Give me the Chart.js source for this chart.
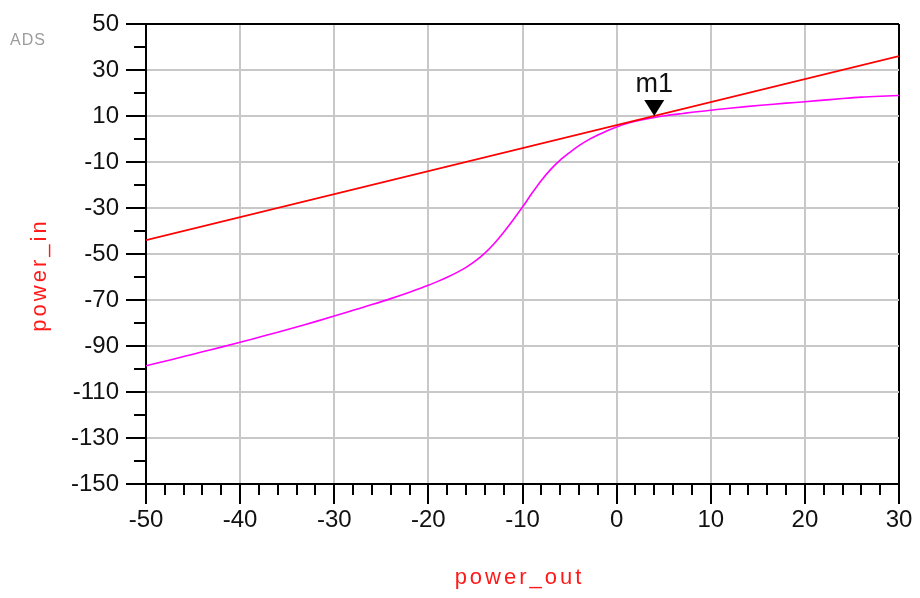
<!DOCTYPE html>
<html>
<head>
<meta charset="utf-8">
<script src="https://cdn.jsdelivr.net/npm/chart.js@4/dist/chart.umd.min.js"></script>
<style>
  html, body { margin: 0; padding: 0; background: #ffffff; }
  #wrap { width: 920px; height: 598px; }
</style>
</head>
<body>
<div id="wrap"><canvas id="c" width="920" height="598"></canvas></div>
<script>
// Swept transfer curve (power_out vs power_in), dB
const powerOut = [-50, -48, -46, -44, -42, -40, -38, -36, -34, -32, -30, -28, -26, -24, -22,
                  -20, -19, -18, -17, -16, -15, -14, -13, -12, -11, -10, -9, -8, -7, -6, -5,
                  -4, -3, -2, -1, 0, 1, 2, 3, 4, 5, 6, 7, 8, 10, 12, 14, 16, 18, 20, 22, 24,
                  26, 28, 30];
const powerIn = [-98.6, -96.6, -94.6, -92.5, -90.5, -88.4, -86.2, -84.0, -81.7, -79.4, -77.0,
                 -74.5, -72.0, -69.4, -66.6, -63.6, -61.9, -60.1, -58.1, -55.8, -53.0, -49.6,
                 -45.4, -40.5, -35.2, -29.6, -23.6, -18.0, -13.2, -9.2, -5.9, -2.9, -0.4, 1.7,
                 3.6, 5.2, 6.6, 7.7, 8.6, 9.35, 10.0, 10.6, 11.1, 11.6, 12.5, 13.4, 14.2, 14.9,
                 15.6, 16.2, 16.9, 17.6, 18.2, 18.6, 18.9];

// Linear (small-signal) extrapolation line
const linearOut = [-50, 30];
const linearIn = [-44, 36];

// Marker
const markerName = 'm1';
const markerOut = 4;
const markerIn = 10;

// Axis ticks and titles
const xTicks = [-50, -40, -30, -20, -10, 0, 10, 20, 30];
const yTicks = [50, 30, 10, -10, -30, -50, -70, -90, -110, -130, -150];
const xMinorStep = 2;
const yMinorStep = 10;
const xTitle = 'power_out';
const yTitle = 'power_in';
const cornerTag = 'ADS';

const FONT = '"Liberation Sans", Arial, sans-serif';

function toPoints(xs, ys) { return xs.map((v, i) => ({ x: v, y: ys[i] })); }

const decorations = {
  id: 'decorations',
  afterDraw(chart) {
    const ctx = chart.ctx;
    const xs = chart.scales.x, ys = chart.scales.y;
    const area = chart.chartArea;
    ctx.save();
    // minor tick marks
    ctx.strokeStyle = '#000';
    ctx.lineWidth = 2;
    ctx.beginPath();
    for (let v = xs.min; v <= xs.max; v += xMinorStep) {
      if (xTicks.includes(v)) continue;
      const px = Math.round(xs.getPixelForValue(v));
      ctx.moveTo(px, area.bottom);
      ctx.lineTo(px, area.bottom + 11);
    }
    for (let v = ys.min; v <= ys.max; v += yMinorStep) {
      if (yTicks.includes(v)) continue;
      const py = Math.round(ys.getPixelForValue(v));
      ctx.moveTo(area.left, py);
      ctx.lineTo(area.left - 12, py);
    }
    ctx.stroke();

    // marker
    const mx = xs.getPixelForValue(markerOut);
    const my = ys.getPixelForValue(markerIn);
    ctx.fillStyle = '#000';
    ctx.beginPath();
    ctx.moveTo(mx, my);
    ctx.lineTo(mx - 10, my - 16);
    ctx.lineTo(mx + 10, my - 16);
    ctx.closePath();
    ctx.fill();
    ctx.font = '27px ' + FONT;
    ctx.textAlign = 'center';
    ctx.textBaseline = 'alphabetic';
    ctx.fillStyle = '#111';
    ctx.fillText(markerName, mx, my - 24);

    // axis titles
    ctx.fillStyle = '#ff1a1a';
    ctx.font = '22px ' + FONT;
    ctx.letterSpacing = '3px';
    ctx.textAlign = 'center';
    ctx.textBaseline = 'middle';
    ctx.fillText(xTitle, (area.left + area.right) / 2 - 3, area.bottom + 94);
    ctx.save();
    ctx.translate(area.left - 106, (area.top + area.bottom) / 2 + 21);
    ctx.rotate(-Math.PI / 2);
    ctx.fillText(yTitle, 0, 0);
    ctx.restore();

    // corner tag
    ctx.letterSpacing = '1px';
    ctx.fillStyle = '#9c9c9c';
    ctx.font = '16px ' + FONT;
    ctx.filter = 'blur(0.5px)';
    ctx.textAlign = 'left';
    ctx.textBaseline = 'alphabetic';
    ctx.fillText(cornerTag, 10, 45);
    ctx.restore();
  }
};

const gridColor = '#c8c8c8';

new Chart(document.getElementById('c'), {
  type: 'line',
  data: {
    datasets: [
      {
        label: 'linear',
        data: toPoints(linearOut, linearIn),
        borderColor: '#ff0000',
        borderWidth: 1.7,
        pointRadius: 0,
        tension: 0
      },
      {
        label: 'swept',
        data: toPoints(powerOut, powerIn),
        borderColor: '#ff00ff',
        borderWidth: 1.6,
        pointRadius: 0,
        cubicInterpolationMode: 'monotone'
      }
    ]
  },
  options: {
    responsive: false,
    animation: false,
    devicePixelRatio: 1,
    layout: { padding: { top: 24, right: 21, left: 0, bottom: 0 } },
    plugins: { legend: { display: false }, tooltip: { enabled: false }, title: { display: false } },
    scales: {
      x: {
        type: 'linear',
        min: -50,
        max: 30,
        afterBuildTicks: s => { s.ticks = xTicks.map(v => ({ value: v })); },
        afterFit: s => { s.height = 114; },
        grid: {
          color: c => (c.tick && c.tick.value === 30) ? '#000' : gridColor,
          lineWidth: 2,
          tickColor: '#000',
          tickLength: 20,
          tickWidth: 2
        },
        border: { color: '#000', width: 2 },
        ticks: {
          color: '#111',
          font: { family: FONT, size: 24 },
          padding: 2,
          maxRotation: 0,
          autoSkip: false
        }
      },
      y: {
        type: 'linear',
        min: -150,
        max: 50,
        afterBuildTicks: s => { s.ticks = yTicks.map(v => ({ value: v })); },
        afterFit: s => { s.width = 146; },
        grid: {
          color: c => (c.tick && c.tick.value === 50) ? '#000' : gridColor,
          lineWidth: 2,
          tickColor: '#000',
          tickLength: 20,
          tickWidth: 2
        },
        border: { color: '#000', width: 2 },
        ticks: {
          color: '#111',
          font: { family: FONT, size: 24 },
          padding: 7,
          autoSkip: false
        }
      }
    }
  },
  plugins: [decorations]
});
</script>
</body>
</html>
